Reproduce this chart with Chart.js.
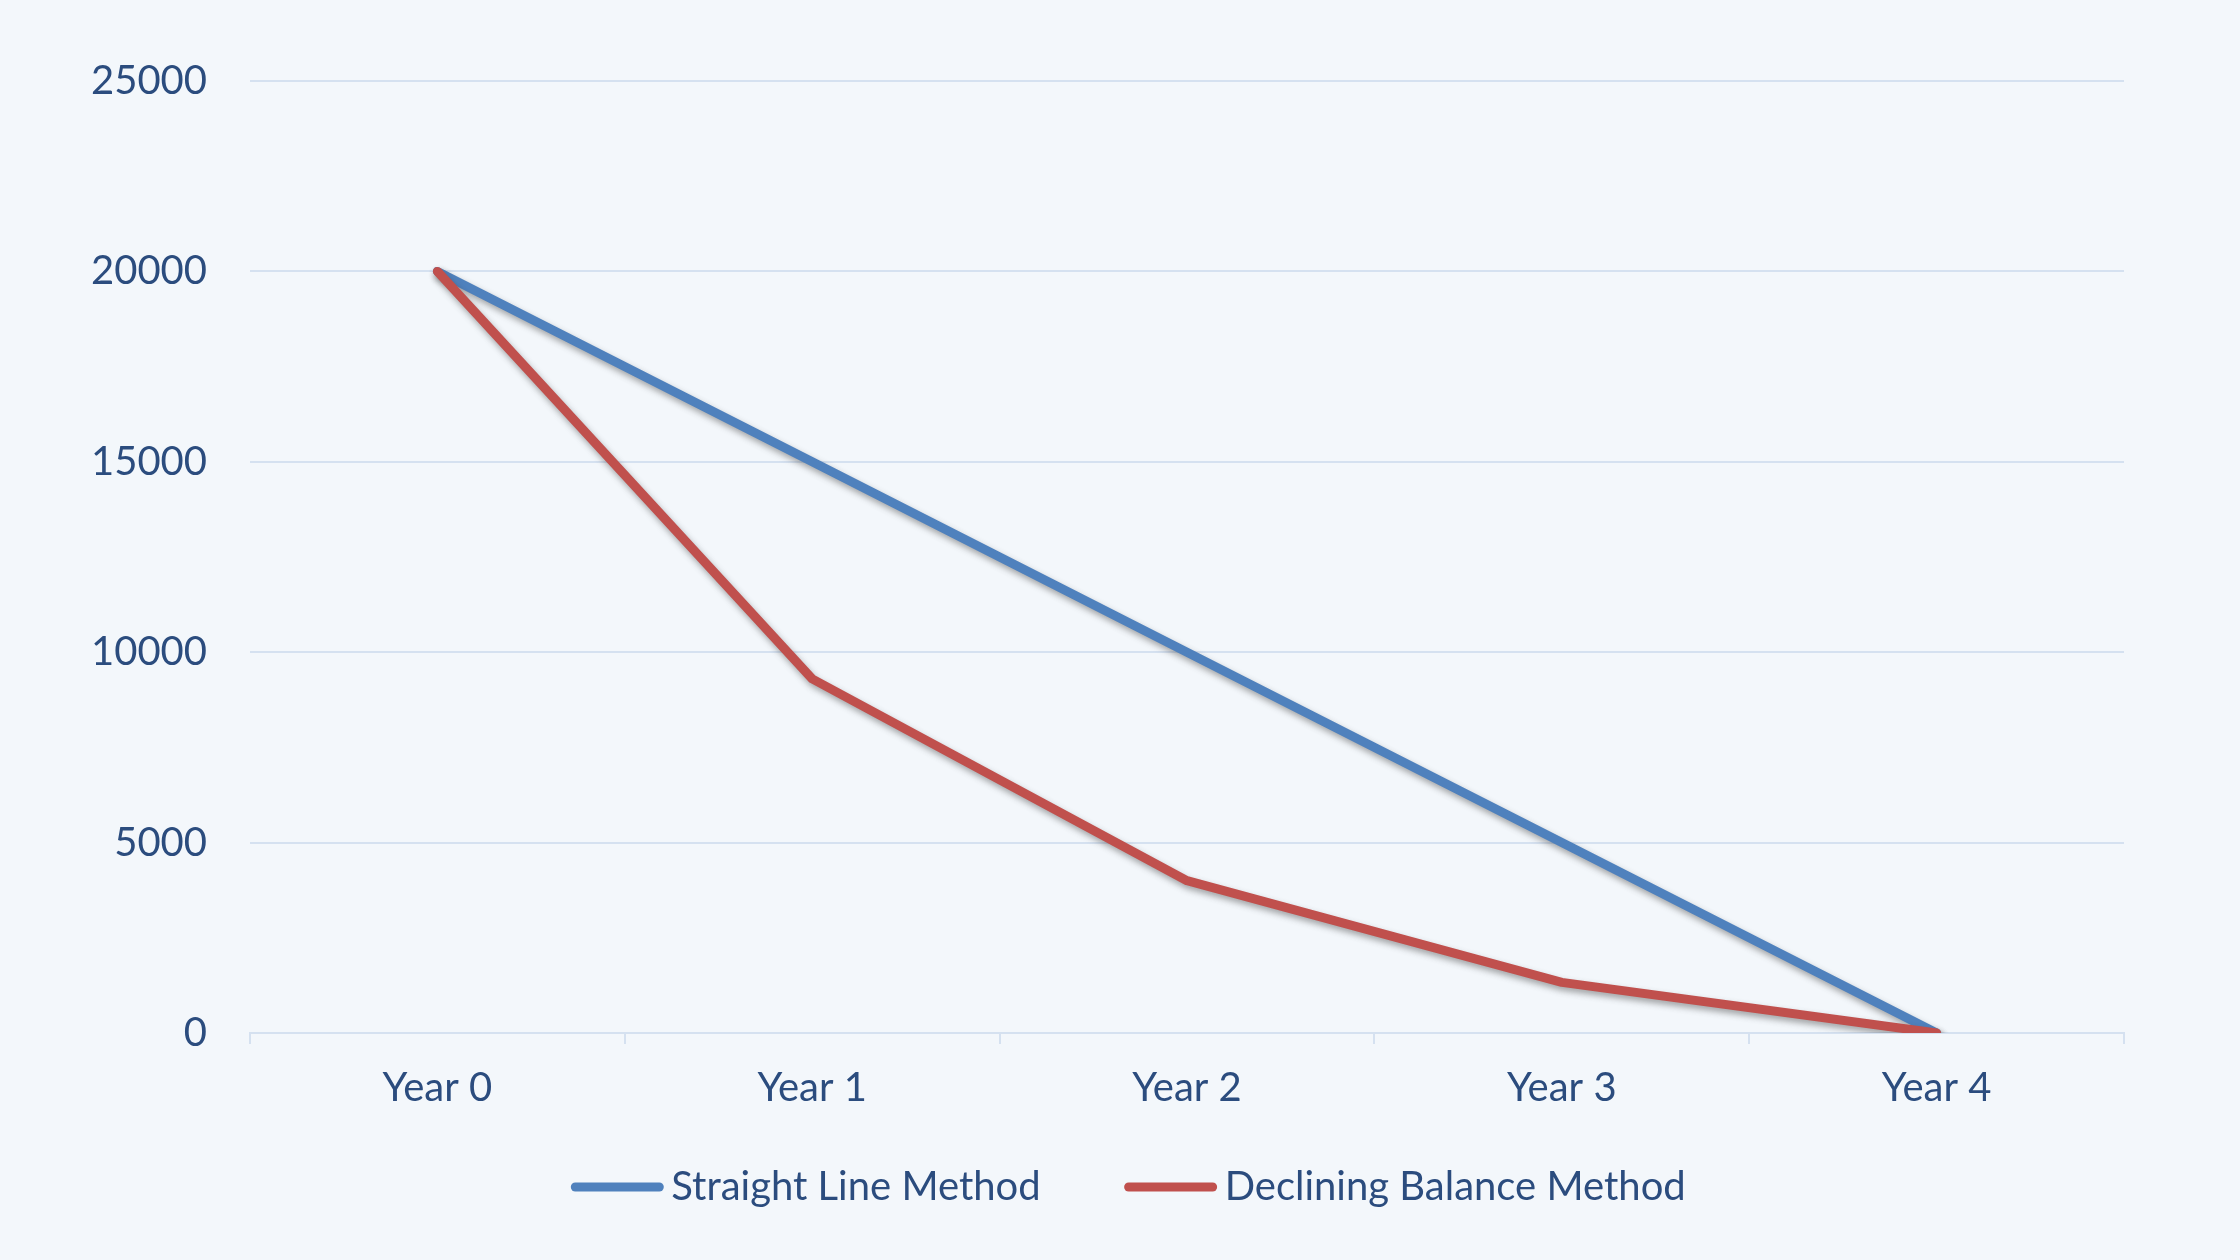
<!DOCTYPE html>
<html>
<head>
<meta charset="utf-8">
<script src="https://cdn.jsdelivr.net/npm/chart.js@4"></script>
<style>
  html, body { margin: 0; padding: 0; background: #f3f7fb; }
  #wykres { display: block; }
</style>
</head>
<body>
<canvas id="wykres" width="2240" height="1260"></canvas>
<script>
// data
const years = ['Year 0', 'Year 1', 'Year 2', 'Year 3', 'Year 4']
const straightLine = [20000, 15000, 10000, 5000, 0]
const decliningBalance = [20000, 9300, 4000, 1330, 0]
const yTicks = [0, 5000, 10000, 15000, 20000, 25000]

const textColor = '#2b4c7e'
const gridColor = '#d5e1f0'
const font = { family: 'Lato', size: 40 }

// soft shadow under the lines, like in excel
const lineShadow = {
  id: 'lineShadow',
  beforeDatasetsDraw(chart) {
    const c = chart.ctx
    c.save()
    c.shadowColor = 'rgba(60, 60, 60, 0.45)'
    c.shadowBlur = 6
    c.shadowOffsetX = 2
    c.shadowOffsetY = 4
  },
  afterDatasetsDraw(chart) {
    chart.ctx.restore()
  }
}

// legend drawn by hand - built-in one can't do excel's spacing
const excelLegend = {
  id: 'excelLegend',
  afterDraw(chart) {
    const c = chart.ctx
    const lineLen = 94, textGap = 7, itemGap = 83, y = 1187
    c.save()
    c.font = font.size + 'px ' + font.family
    const items = chart.data.datasets.map(ds => ({
      text: ds.label,
      color: ds.borderColor,
      w: lineLen + textGap + c.measureText(ds.label).width
    }))
    const total = items.reduce((s, it) => s + it.w, 0) + itemGap * (items.length - 1)
    let x = chart.width / 2 - total / 2 + 8
    items.forEach(it => {
      c.strokeStyle = it.color
      c.lineWidth = 9
      c.lineCap = 'round'
      c.beginPath()
      c.moveTo(x + 5, y)
      c.lineTo(x + lineLen - 5, y)
      c.stroke()
      c.fillStyle = textColor
      c.textAlign = 'left'
      c.textBaseline = 'middle'
      c.fillText(it.text, x + lineLen + textGap, y)
      x += it.w + itemGap
    })
    c.restore()
  }
}

const ctx = document.getElementById('wykres')

new Chart(ctx, {
  type: 'line',
  data: {
    labels: years,
    datasets: [{
      label: 'Straight Line Method',
      data: straightLine,
      borderColor: '#4f81bd',
      borderWidth: 9,
      borderCapStyle: 'round',
      borderJoinStyle: 'round',
      pointRadius: 0,
      tension: 0,
      order: 1
    }, {
      label: 'Declining Balance Method',
      data: decliningBalance,
      borderColor: '#c0504d',
      borderWidth: 9,
      borderCapStyle: 'round',
      borderJoinStyle: 'round',
      pointRadius: 0,
      tension: 0,
      order: 0
    }]
  },
  options: {
    responsive: false,
    animation: false,
    layout: {
      padding: { top: 81, right: 116, bottom: 127, left: 0 }
    },
    plugins: {
      tooltip: { enabled: false },
      legend: { display: false }
    },
    scales: {
      x: {
        offset: true,
        grid: {
          offset: true,
          drawOnChartArea: false,
          drawTicks: true,
          tickLength: 11,
          color: gridColor,
          lineWidth: 2
        },
        border: { display: true, color: gridColor, width: 2 },
        ticks: {
          color: textColor,
          font: font,
          padding: 20,
          maxRotation: 0
        },
        afterFit(scale) {
          scale.height = 100
        }
      },
      y: {
        min: 0,
        max: 25000,
        afterBuildTicks(scale) {
          scale.ticks = yTicks.map(v => ({ value: v }))
        },
        grid: {
          drawTicks: false,
          color: gridColor,
          lineWidth: 2
        },
        border: { display: false },
        ticks: {
          color: textColor,
          font: font,
          padding: 43,
          callback: v => String(v)
        },
        afterFit(scale) {
          scale.width = 250
        }
      }
    }
  },
  plugins: [lineShadow, excelLegend]
})
</script>
</body>
</html>
